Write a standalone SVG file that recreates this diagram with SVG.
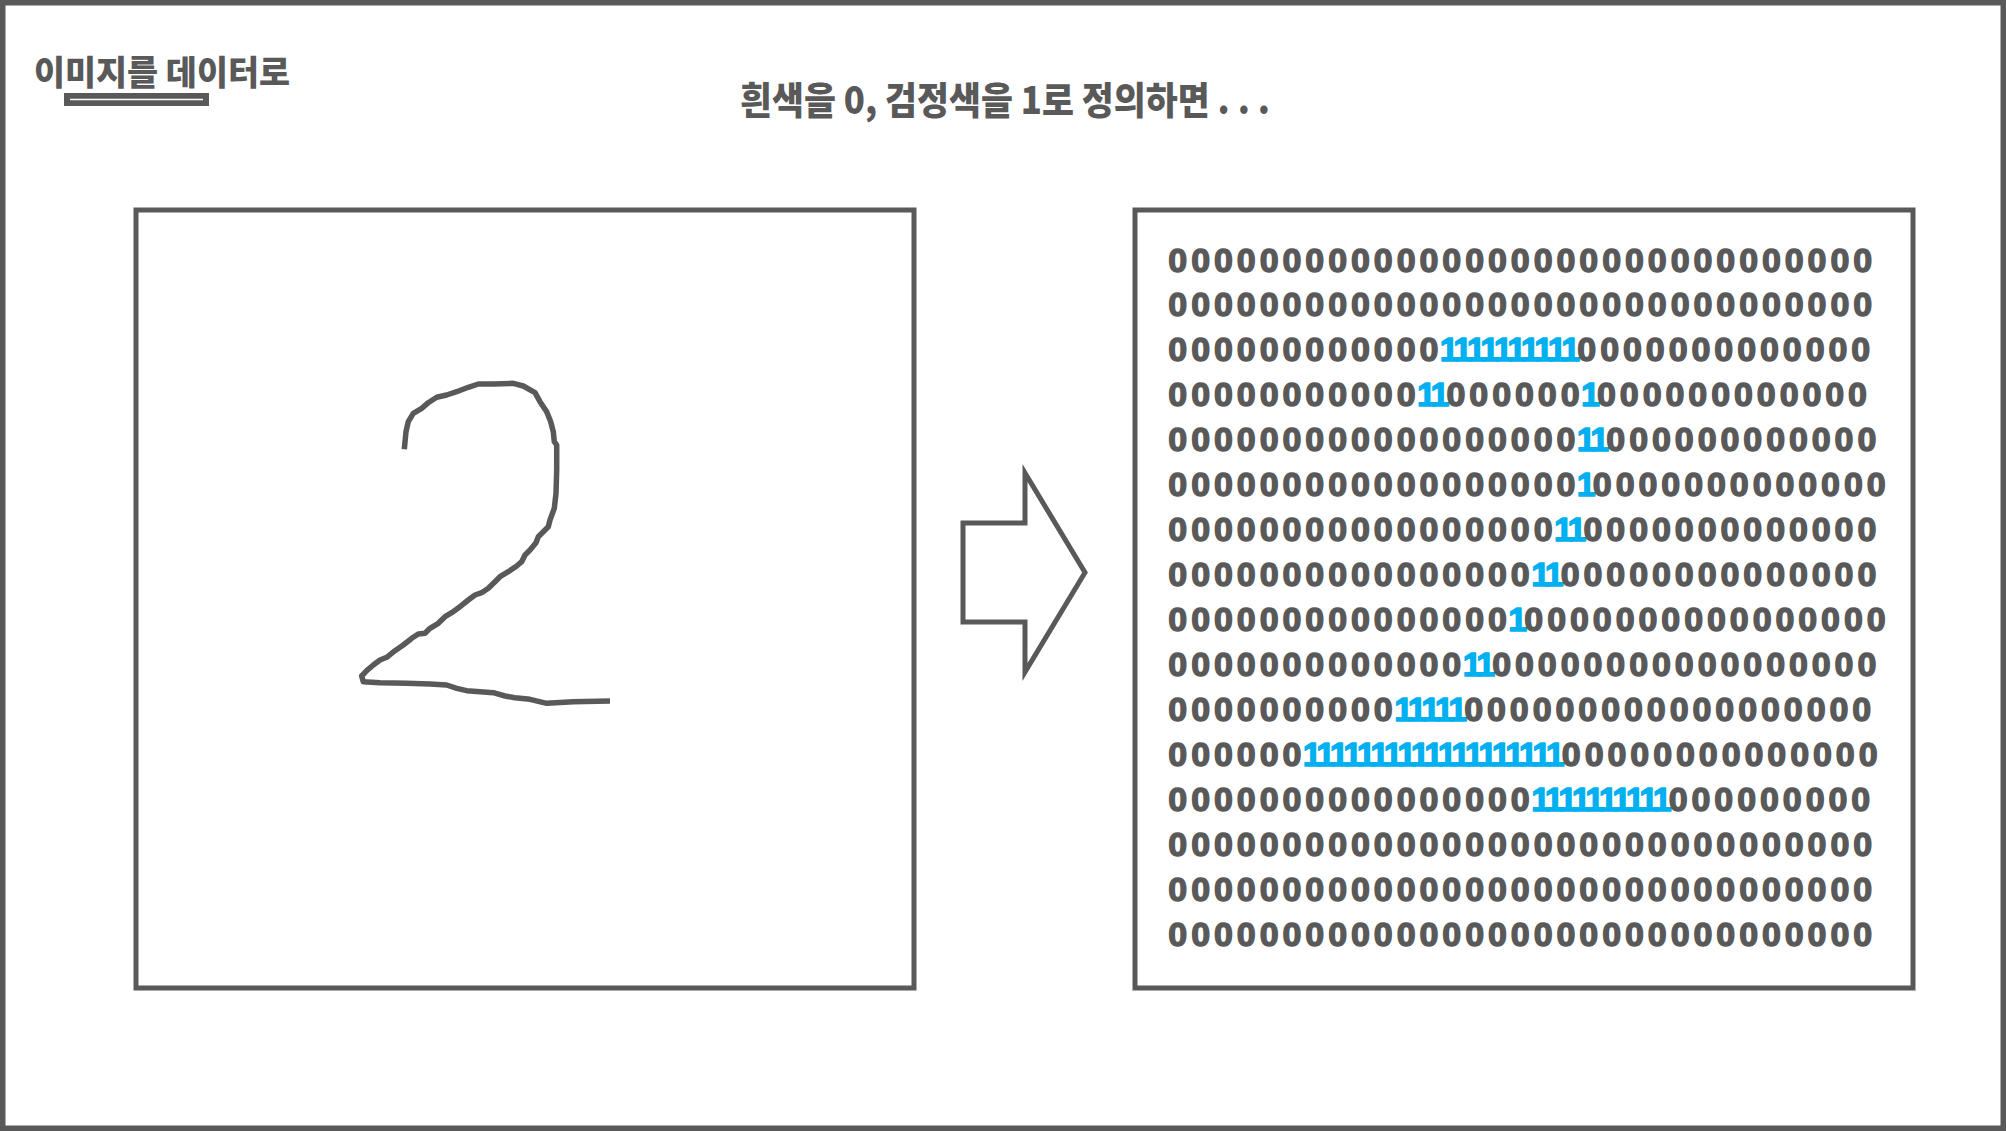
<svg xmlns="http://www.w3.org/2000/svg" width="2006" height="1131" viewBox="0 0 2006 1131">
<style>
.ko{font-family:"Noto Sans CJK KR","Noto Sans",sans-serif;font-weight:900;fill:#595959}
.box{fill:#ffffff;stroke:#595959;stroke-width:5}
.d{font-family:"Liberation Sans",Arial,sans-serif;font-weight:700;font-size:34px;fill:#595959;stroke:#595959;stroke-width:1.4;stroke-linejoin:round;text-anchor:middle}
.o{fill:#00b0f0;stroke:#00b0f0}
</style>
<rect x="0" y="0" width="2006" height="1131" fill="#ffffff"/>
<rect x="2.75" y="2.75" width="2000.5" height="1125.5" fill="none" stroke="#595959" stroke-width="5.5"/>
<g id="title">
<text class="ko" x="34" y="85" font-size="34" textLength="256" lengthAdjust="spacingAndGlyphs">이미지를 데이터로</text>
<rect x="64" y="93" width="145" height="13" fill="#595959"/>
<line x1="70" y1="99.5" x2="203" y2="99.5" stroke="#ffffff" stroke-width="1.5"/>
</g>
<g id="subtitle">
<text class="ko" x="740" y="114" font-size="38" textLength="530" lengthAdjust="spacingAndGlyphs">흰색을 0, 검정색을 1로 정의하면 . . .</text>
</g>
<g id="image-node">
<rect class="box" x="136" y="210" width="778" height="778"/>
<path d="M404.3,449.3 L406,431.7 L408.3,421.7 L413.3,413.3 L421.7,408.3 L428.3,402.7 L436.7,397.3 L446.7,395 L456.7,391.7 L468.3,387.3 L478.3,384 L493.3,384 L513.3,383.3 L523.3,386 L535,392.7 L540,401.7 L546.7,411.7 L550.7,421.7 L553.3,431.7 L554.3,441.7 L556.7,445 L556.7,470 L556,493.3 L554.3,508.3 L550,520 L548.3,526.7 L543.3,531.7 L538.3,536.7 L536,542.7 L530,550 L525,555 L521.7,561.7 L516.7,566 L508.3,571.7 L500,576.7 L495,581.7 L488.3,588.3 L481.7,592.7 L475,595 L468.3,600 L460,606.7 L451.7,612.7 L445,616.7 L438.3,623.3 L430,628.3 L425,633.3 L418.3,634 L411.7,638.3 L403.3,645 L395,650.7 L386.7,657.3 L380,660 L373.3,665 L366.7,670.7 L361.7,676 L363.3,681.7 L380,682.7 L406.7,683.3 L430,684 L446.7,685 L456.7,688.3 L466.7,690.7 L480,691.7 L493.3,692.7 L505,696 L515,697.7 L530,699.3 L546.7,703.3 L573.3,701.7 L610,701" fill="none" stroke="#595959" stroke-width="5.5" stroke-linejoin="round" stroke-linecap="butt"/>
</g>
<g id="connectors">
<polygon points="963,523 1025,523 1025,473 1085,572.5 1025,672 1025,622 963,622" fill="#ffffff" stroke="#595959" stroke-width="5" stroke-linejoin="miter"/>
</g>
<g id="data-node">
<rect class="box" x="1135" y="210" width="778" height="778"/>
<text class="d" y="271.5"><tspan x="1177.8 1200.6 1223.5 1246.3 1269.1 1292 1314.8 1337.6 1360.4 1383.3 1406.1 1428.9 1451.8 1474.6 1497.4 1520.3 1543.1 1565.9 1588.7 1611.6 1634.4 1657.2 1680.1 1702.9 1725.7 1748.6 1771.4 1794.2 1817 1839.9 1862.7">0000000000000000000000000000000</tspan></text>
<text class="d" y="316.4"><tspan x="1177.8 1200.6 1223.5 1246.3 1269.1 1292 1314.8 1337.6 1360.4 1383.3 1406.1 1428.9 1451.8 1474.6 1497.4 1520.3 1543.1 1565.9 1588.7 1611.6 1634.4 1657.2 1680.1 1702.9 1725.7 1748.6 1771.4 1794.2 1817 1839.9 1862.7">0000000000000000000000000000000</tspan></text>
<text class="d" y="361.4"><tspan x="1177.8 1200.6 1223.5 1246.3 1269.1 1292 1314.8 1337.6 1360.4 1383.3 1406.1 1428.9">000000000000</tspan><tspan class="o" x="1449.3 1462.8 1476.3 1489.8 1503.3 1516.8 1530.3 1543.8 1557.3 1570.8">1111111111</tspan><tspan x="1586.8 1609.6 1632.4 1655.3 1678.1 1700.9 1723.8 1746.6 1769.4 1792.3 1815.1 1837.9 1860.8">0000000000000</tspan></text>
<text class="d" y="406.3"><tspan x="1177.8 1200.6 1223.5 1246.3 1269.1 1292 1314.8 1337.6 1360.4 1383.3 1406.1">00000000000</tspan><tspan class="o" x="1426.4 1439.9">11</tspan><tspan x="1455.9 1478.8 1501.6 1524.4 1547.3 1570.1">000000</tspan><tspan class="o" x="1590.4">1</tspan><tspan x="1606.4 1629.2 1652.1 1674.9 1697.7 1720.6 1743.4 1766.2 1789.1 1811.9 1834.7 1857.5">000000000000</tspan></text>
<text class="d" y="451.2"><tspan x="1177.8 1200.6 1223.5 1246.3 1269.1 1292 1314.8 1337.6 1360.4 1383.3 1406.1 1428.9 1451.8 1474.6 1497.4 1520.3 1543.1 1565.9">000000000000000000</tspan><tspan class="o" x="1586.2 1599.7">11</tspan><tspan x="1615.7 1638.6 1661.4 1684.2 1707.1 1729.9 1752.7 1775.6 1798.4 1821.2 1844 1866.9">000000000000</tspan></text>
<text class="d" y="496.2"><tspan x="1177.8 1200.6 1223.5 1246.3 1269.1 1292 1314.8 1337.6 1360.4 1383.3 1406.1 1428.9 1451.8 1474.6 1497.4 1520.3 1543.1 1565.9">000000000000000000</tspan><tspan class="o" x="1586.2">1</tspan><tspan x="1602.2 1625.1 1647.9 1670.7 1693.6 1716.4 1739.2 1762.1 1784.9 1807.7 1830.5 1853.4 1876.2">0000000000000</tspan></text>
<text class="d" y="541.1"><tspan x="1177.8 1200.6 1223.5 1246.3 1269.1 1292 1314.8 1337.6 1360.4 1383.3 1406.1 1428.9 1451.8 1474.6 1497.4 1520.3 1543.1">00000000000000000</tspan><tspan class="o" x="1563.4 1576.9">11</tspan><tspan x="1592.9 1615.7 1638.6 1661.4 1684.2 1707.1 1729.9 1752.7 1775.6 1798.4 1821.2 1844 1866.9">0000000000000</tspan></text>
<text class="d" y="586"><tspan x="1177.8 1200.6 1223.5 1246.3 1269.1 1292 1314.8 1337.6 1360.4 1383.3 1406.1 1428.9 1451.8 1474.6 1497.4 1520.3">0000000000000000</tspan><tspan class="o" x="1540.6 1554.1">11</tspan><tspan x="1570.1 1592.9 1615.7 1638.6 1661.4 1684.2 1707.1 1729.9 1752.7 1775.6 1798.4 1821.2 1844 1866.9">00000000000000</tspan></text>
<text class="d" y="630.9"><tspan x="1177.8 1200.6 1223.5 1246.3 1269.1 1292 1314.8 1337.6 1360.4 1383.3 1406.1 1428.9 1451.8 1474.6 1497.4">000000000000000</tspan><tspan class="o" x="1517.8">1</tspan><tspan x="1533.8 1556.6 1579.4 1602.2 1625.1 1647.9 1670.7 1693.6 1716.4 1739.2 1762.1 1784.9 1807.7 1830.5 1853.4 1876.2">0000000000000000</tspan></text>
<text class="d" y="675.9"><tspan x="1177.8 1200.6 1223.5 1246.3 1269.1 1292 1314.8 1337.6 1360.4 1383.3 1406.1 1428.9 1451.8">0000000000000</tspan><tspan class="o" x="1472.1 1485.6">11</tspan><tspan x="1501.6 1524.4 1547.3 1570.1 1592.9 1615.7 1638.6 1661.4 1684.2 1707.1 1729.9 1752.7 1775.6 1798.4 1821.2 1844 1866.9">00000000000000000</tspan></text>
<text class="d" y="720.8"><tspan x="1177.8 1200.6 1223.5 1246.3 1269.1 1292 1314.8 1337.6 1360.4 1383.3">0000000000</tspan><tspan class="o" x="1403.6 1417.1 1430.6 1444.1 1457.6">11111</tspan><tspan x="1473.6 1496.4 1519.3 1542.1 1564.9 1587.8 1610.6 1633.4 1656.2 1679.1 1701.9 1724.7 1747.6 1770.4 1793.2 1816.1 1838.9 1861.7">000000000000000000</tspan></text>
<text class="d" y="765.7"><tspan x="1177.8 1200.6 1223.5 1246.3 1269.1 1292">000000</tspan><tspan class="o" x="1312.3 1325.8 1339.3 1352.8 1366.3 1379.8 1393.3 1406.8 1420.3 1433.8 1447.3 1460.8 1474.3 1487.8 1501.3 1514.8 1528.3 1541.8 1555.3">1111111111111111111</tspan><tspan x="1571.3 1594.1 1616.9 1639.8 1662.6 1685.4 1708.3 1731.1 1753.9 1776.8 1799.6 1822.4 1845.2 1868.1">00000000000000</tspan></text>
<text class="d" y="810.7"><tspan x="1177.8 1200.6 1223.5 1246.3 1269.1 1292 1314.8 1337.6 1360.4 1383.3 1406.1 1428.9 1451.8 1474.6 1497.4 1520.3">0000000000000000</tspan><tspan class="o" x="1540.6 1554.1 1567.6 1581.1 1594.6 1608.1 1621.6 1635.1 1648.6 1662.1">1111111111</tspan><tspan x="1678.1 1700.9 1723.7 1746.6 1769.4 1792.2 1815.1 1837.9 1860.7">000000000</tspan></text>
<text class="d" y="855.6"><tspan x="1177.8 1200.6 1223.5 1246.3 1269.1 1292 1314.8 1337.6 1360.4 1383.3 1406.1 1428.9 1451.8 1474.6 1497.4 1520.3 1543.1 1565.9 1588.7 1611.6 1634.4 1657.2 1680.1 1702.9 1725.7 1748.6 1771.4 1794.2 1817 1839.9 1862.7">0000000000000000000000000000000</tspan></text>
<text class="d" y="900.5"><tspan x="1177.8 1200.6 1223.5 1246.3 1269.1 1292 1314.8 1337.6 1360.4 1383.3 1406.1 1428.9 1451.8 1474.6 1497.4 1520.3 1543.1 1565.9 1588.7 1611.6 1634.4 1657.2 1680.1 1702.9 1725.7 1748.6 1771.4 1794.2 1817 1839.9 1862.7">0000000000000000000000000000000</tspan></text>
<text class="d" y="945.5"><tspan x="1177.8 1200.6 1223.5 1246.3 1269.1 1292 1314.8 1337.6 1360.4 1383.3 1406.1 1428.9 1451.8 1474.6 1497.4 1520.3 1543.1 1565.9 1588.7 1611.6 1634.4 1657.2 1680.1 1702.9 1725.7 1748.6 1771.4 1794.2 1817 1839.9 1862.7">0000000000000000000000000000000</tspan></text>
</g>
</svg>
